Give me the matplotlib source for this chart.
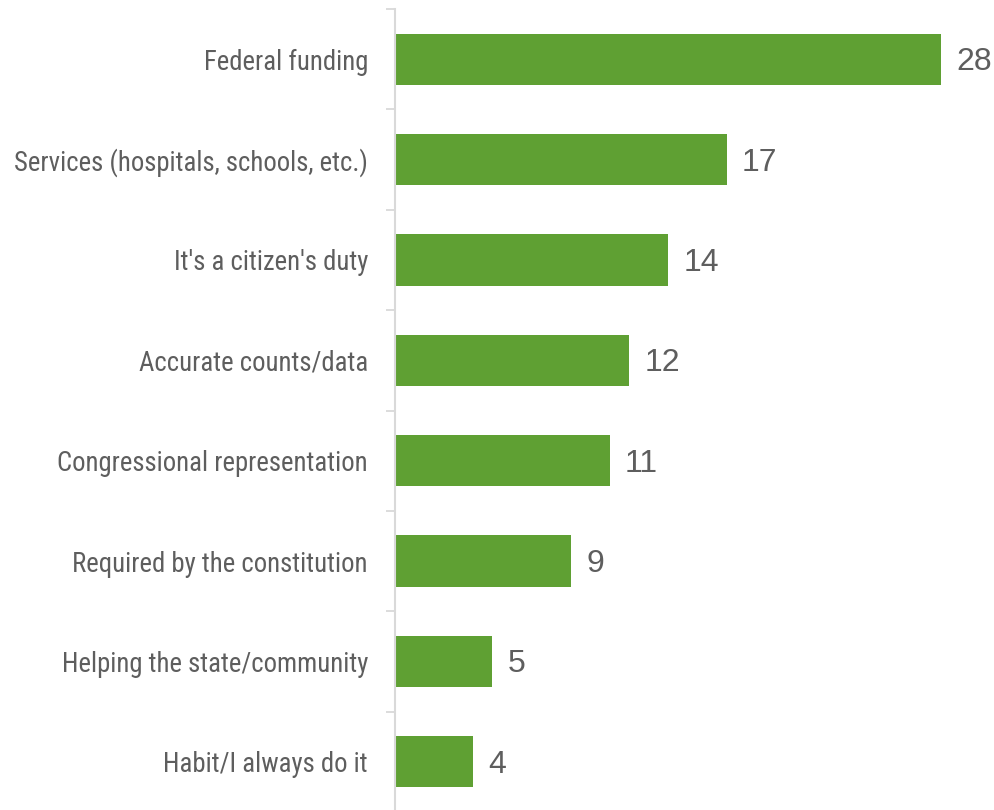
import matplotlib.pyplot as plt
import numpy as np

# Reasons for responding, share of respondents
reasons = [
    "Federal funding",
    "Services (hospitals, schools, etc.)",
    "It's a citizen's duty",
    "Accurate counts/data",
    "Congressional representation",
    "Required by the constitution",
    "Helping the state/community",
    "Habit/I always do it",
]
shares = [28, 17, 14, 12, 11, 9, 5, 4]

bar_color = "#5FA033"
text_color = "#5E5E5E"
axis_color = "#D9D9D9"
label_font = ["Roboto Condensed", "Archivo Narrow", "Liberation Sans", "DejaVu Sans"]
value_font = ["Liberation Sans", "DejaVu Sans"]

fig = plt.figure(figsize=(9.95, 8.1), dpi=100)
ax = fig.add_axes([395 / 995, -2 / 810, 600 / 995, 803 / 810])

y = np.arange(len(reasons))
ax.barh(y, shares, height=0.51, color=bar_color)
ax.set_ylim(len(reasons) - 0.5, -0.5)
ax.set_xlim(0, 600 / 19.5)

# value labels, nudged down a touch so the digits sit centred on the bar
for yi, v in zip(y, shares):
    ax.text(v + 0.8, yi + 0.03, str(v), va="center", ha="left",
            fontsize=23, color=text_color, family=value_font)

ax.set_yticks(y)
ax.set_yticklabels(reasons, fontsize=19.3, color=text_color, family=label_font)
ax.tick_params(axis="y", which="major", length=0, pad=19.5)
ax.set_yticks(np.arange(-0.5, len(reasons) + 0.5, 1), minor=True)
ax.tick_params(axis="y", which="minor", length=6.5, width=1.3, color=axis_color)
ax.set_xticks([])

for side in ["top", "right", "bottom"]:
    ax.spines[side].set_visible(False)
ax.spines["left"].set_color(axis_color)
ax.spines["left"].set_linewidth(1.5)

fig.savefig("out.png", dpi=100)
